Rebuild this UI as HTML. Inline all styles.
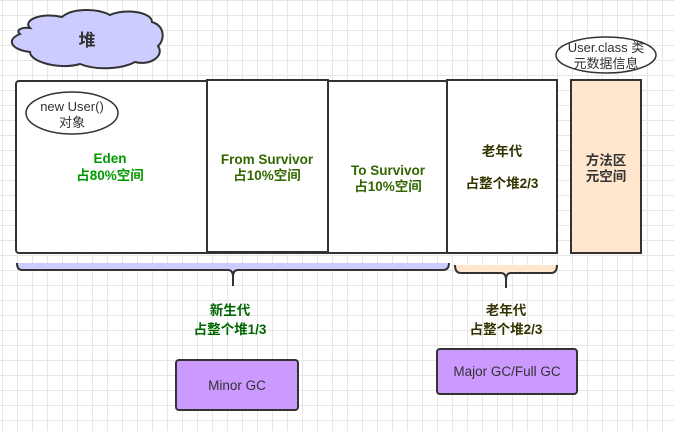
<!DOCTYPE html>
<html><head><meta charset="utf-8"><style>
html,body{margin:0;padding:0}
body{width:674px;height:431px;overflow:hidden;background:#fff;
background-image:linear-gradient(#e6e6e6 1px,transparent 1px),linear-gradient(90deg,#e6e6e6 1px,transparent 1px);
background-size:15px 15px;background-position:2px 0px;font-family:"Liberation Sans","Noto Sans CJK SC",sans-serif}
svg{position:absolute;left:0;top:0}
</style></head><body>
<svg width="674" height="431" viewBox="0 0 674 431" font-family="Liberation Sans, Noto Sans CJK SC, sans-serif">
<path d="M30,28 C22,20 42,12 62,17 C72,8 97,8 110,15 C125,8 152,12 152,22 C165,26 165,40 158,46 C165,56 150,66 135,62 C120,70 95,70 80,64 C60,70 30,62 30,52 C12,50 5,40 20,34 C15,30 22,27 30,28 Z" fill="#ccccff" stroke="#333" stroke-width="2"/>
<text x="87" y="46" font-size="17" font-weight="bold" text-anchor="middle" fill="#333">堆</text>
<rect x="16" y="81" width="432" height="172" rx="3" fill="#fff" stroke="#333" stroke-width="2"/>
<rect x="207" y="80" width="121" height="172" fill="#fff" stroke="#333" stroke-width="2"/>
<line x1="328" y1="81" x2="328" y2="252" stroke="#333" stroke-width="1.5"/>
<rect x="447" y="80" width="110" height="173" fill="#fff" stroke="#333" stroke-width="2"/>
<rect x="571" y="80" width="70" height="173" fill="#ffe6cc" stroke="#333" stroke-width="2"/>
<ellipse cx="72" cy="113" rx="46" ry="21" fill="#fff" stroke="#333" stroke-width="1.5"/>
<text x="72" y="111" font-size="13" text-anchor="middle" fill="#333">new User()</text>
<text x="72" y="127" font-size="13" text-anchor="middle" fill="#333">对象</text>
<ellipse cx="606" cy="55" rx="50" ry="18" fill="#fff" stroke="#333" stroke-width="1.5"/>
<text x="606" y="52" font-size="13" text-anchor="middle" fill="#333">User.class 类</text>
<text x="606" y="68" font-size="13" text-anchor="middle" fill="#333">元数据信息</text>
<g font-size="13.5" font-weight="bold" text-anchor="middle">
<text x="110" y="163" fill="#009900">Eden</text>
<text x="110" y="180" fill="#009900">占80%空间</text>
<text x="267" y="164" fill="#336600">From Survivor</text>
<text x="267" y="180" fill="#336600">占10%空间</text>
<text x="388" y="175" fill="#336600">To Survivor</text>
<text x="388" y="191" fill="#336600">占10%空间</text>
<text x="502" y="156" fill="#333300">老年代</text>
<text x="502" y="188" fill="#333300">占整个堆2/3</text>
<text x="606" y="165" fill="#333">方法区</text>
<text x="606" y="181" fill="#333">元空间</text>
<text x="230" y="315" fill="#006600">新生代</text>
<text x="230" y="334" fill="#006600">占整个堆1/3</text>
<text x="506" y="315" fill="#333300">老年代</text>
<text x="506" y="334" fill="#333300">占整个堆2/3</text>
</g>
<path d="M17,263 L449,263 L449,266 Q449,270 443,270 L238,270 Q233,270 233,277 L233,286 L233,277 Q233,270 228,270 L22,270 Q17,270 17,265 Z" fill="#ccccff"/>
<path d="M17,263 Q17,270 22,270 L228,270 Q233,270 233,277 L233,286 M233,277 Q233,270 238,270 L443,270 Q449,270 449,263" fill="none" stroke="#333" stroke-width="2"/>
<path d="M455,265 L557,265 Q557,273 551,273 L511,273 Q506,273 506,280 Q506,273 501,273 L461,273 Q455,273 455,265 Z" fill="#ffe6cc"/>
<path d="M455,265 Q455,273 461,273 L501,273 Q506,273 506,280 L506,288 M506,280 Q506,273 511,273 L551,273 Q557,273 557,265" fill="none" stroke="#333" stroke-width="2"/>
<rect x="176" y="360" width="122" height="50" rx="3" fill="#cc99ff" stroke="#333" stroke-width="2"/>
<text x="237" y="390" font-size="13.5" text-anchor="middle" fill="#333">Minor GC</text>
<rect x="437" y="349" width="140" height="45" rx="3" fill="#cc99ff" stroke="#333" stroke-width="2"/>
<text x="507" y="376" font-size="13.5" text-anchor="middle" fill="#333">Major GC/Full GC</text>
</svg>
</body></html>
